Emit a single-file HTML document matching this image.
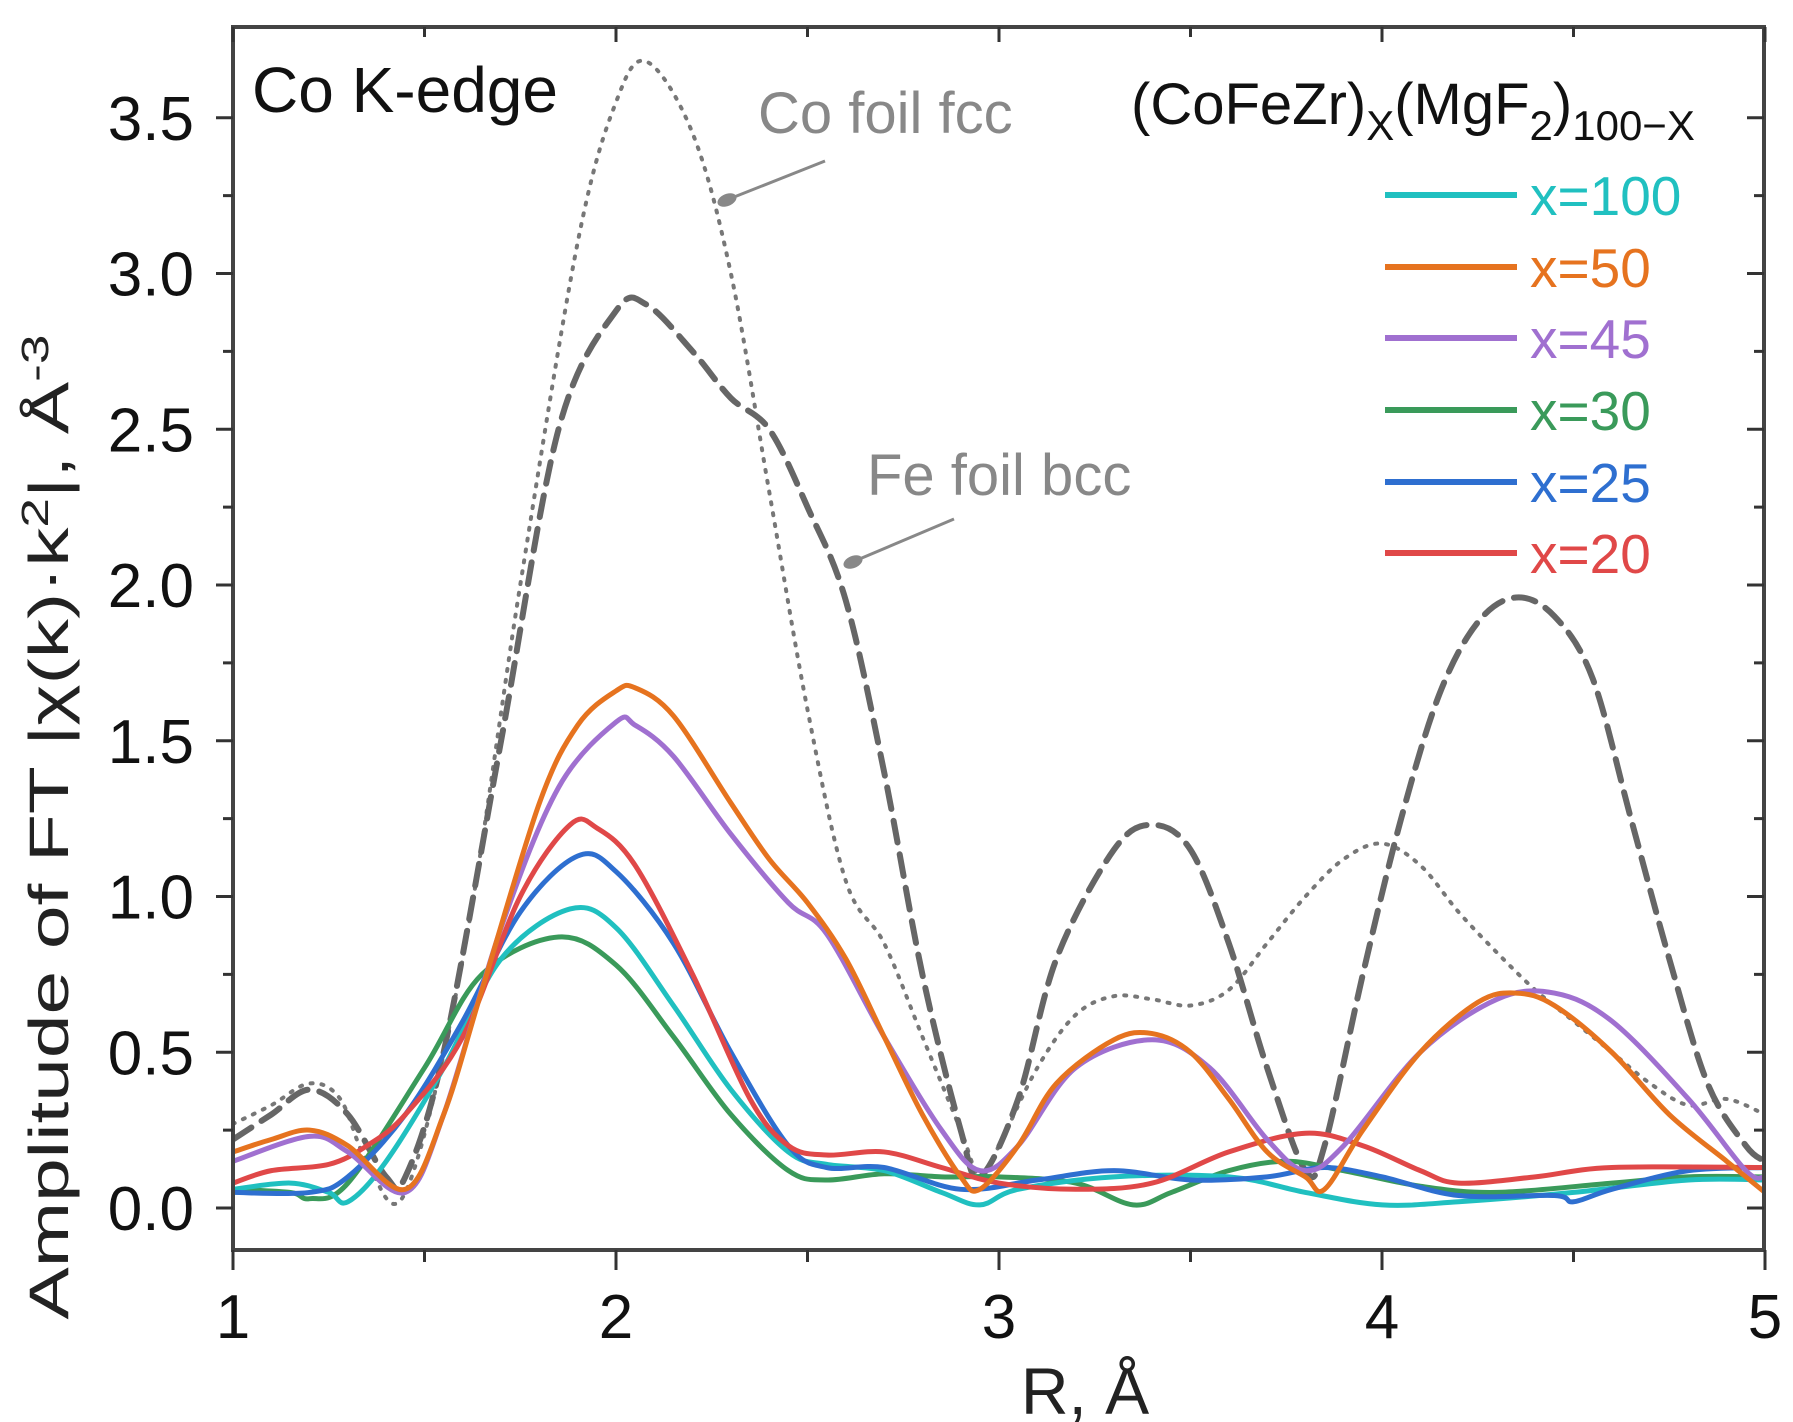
<!DOCTYPE html>
<html><head><meta charset="utf-8"><style>
html,body{margin:0;padding:0;background:#fff;}
svg{display:block;font-family:"Liberation Sans",sans-serif;}
</style></head><body>
<svg id="s" width="1793" height="1422" viewBox="0 0 1793 1422" xmlns="http://www.w3.org/2000/svg">
<defs><clipPath id="c"><rect x="234" y="28" width="1529" height="1221"/></clipPath></defs>
<g id="curves" clip-path="url(#c)" fill="none" stroke-linejoin="round" stroke-linecap="round"></g>
<rect x="233" y="27" width="1531" height="1223" fill="none" stroke="#444" stroke-width="4"/>
<g id="ticks" stroke="#333" stroke-width="3"></g>
<g font-size="62" fill="#111" text-anchor="end" id="ylab"></g>
<g font-size="62" fill="#111" text-anchor="middle" id="xlab"></g>
<text x="1085" y="1414" font-size="66" fill="#222" text-anchor="middle">R, Å</text>
<text transform="translate(68,827) rotate(-90)" font-size="56" fill="#222" text-anchor="middle" textLength="985" lengthAdjust="spacingAndGlyphs">Amplitude of FT |χ(k)·k<tspan dy="-20" font-size="38">2</tspan><tspan dy="20">|, Å</tspan><tspan dy="-20" font-size="38">-3</tspan></text>
<text x="252" y="112" font-size="64" fill="#111">Co K-edge</text>
<text x="1131" y="124" font-size="58" fill="#111">(CoFeZr)<tspan dy="16" font-size="42">X</tspan><tspan dy="-16">(MgF</tspan><tspan dy="16" font-size="42">2</tspan><tspan dy="-16">)</tspan><tspan dy="16" font-size="42">100−X</tspan></text>
<text x="758" y="133" font-size="58" fill="#888">Co foil fcc</text>
<line x1="825" y1="161" x2="724" y2="201" stroke="#888" stroke-width="3"/>
<ellipse cx="727" cy="200" rx="10" ry="6" fill="#888" transform="rotate(-22 727 200)"/>
<text x="867" y="495" font-size="58" fill="#888">Fe foil bcc</text>
<line x1="954" y1="519" x2="850" y2="563" stroke="#888" stroke-width="3"/>
<ellipse cx="853" cy="562" rx="10" ry="6" fill="#888" transform="rotate(-22 853 562)"/>
<g id="leg" font-size="55"></g>
</svg>
<script>
var X=function(r){return 233+(r-1)*383;},Y=function(v){return 1208-v*311.5;};
var NS="http://www.w3.org/2000/svg";
function el(p,t,a,txt){var e=document.createElementNS(NS,t);for(var k in a)e.setAttribute(k,a[k]);if(txt!==undefined)e.textContent=txt;p.appendChild(e);return e;}
var tk=document.getElementById('ticks');
for(var i=0;i<=14;i++){var v=i*0.25,y=Y(v),maj=i%2==0;
 el(tk,'line',{x1:233,x2:233-(maj?17:10),y1:y,y2:y});
 el(tk,'line',{x1:1764,x2:1764-(maj?17:10),y1:y,y2:y});
 if(maj)el(document.getElementById('ylab'),'text',{x:194,y:y+22},v.toFixed(1));}
for(var i=0;i<=8;i++){var r=1+i*0.5,x=X(r),maj=i%2==0;
 el(tk,'line',{x1:x,x2:x,y1:1250,y2:1250+(maj?20:12)});
 el(tk,'line',{x1:x,x2:x,y1:27,y2:27+(maj?15:10)});
 if(maj)el(document.getElementById('xlab'),'text',{x:x,y:1338},String(r));}
function path(d){var p=d.map(function(q){return[X(q[0]),Y(q[1])];});var s="M"+p[0][0]+","+p[0][1];
 for(var i=0;i<p.length-1;i++){var p0=p[i-1]||p[i],p1=p[i],p2=p[i+1],p3=p[i+2]||p2;
  s+="C"+(p1[0]+(p2[0]-p0[0])/6)+","+(p1[1]+(p2[1]-p0[1])/6)+" "+(p2[0]-(p3[0]-p1[0])/6)+","+(p2[1]-(p3[1]-p1[1])/6)+" "+p2[0]+","+p2[1];}
 return s;}
function P(a){var r=[];for(var i=0;i<a.length;i+=2)r.push([a[i],a[i+1]]);return r;}
var S=[
{c:"#777",w:4,da:"2 9",d:P([1,.27,1.1,.33,1.2,.4,1.28,.35,1.35,.15,1.45,.05,1.6,.8,1.75,2.0,1.9,3.1,2.0,3.55,2.08,3.68,2.2,3.45,2.3,3.0,2.4,2.3,2.5,1.6,2.6,1.05,2.7,.85,2.8,.55,2.9,.25,2.95,.1,3.0,.2,3.1,.45,3.2,.62,3.3,.68,3.4,.67,3.5,.65,3.6,.7,3.7,.85,3.8,1.0,3.9,1.12,4.0,1.17,4.1,1.1,4.2,.95,4.3,.82,4.4,.7,4.5,.6,4.6,.5,4.7,.4,4.8,.33,4.9,.35,5.0,.3])},
{c:"#666",w:6,da:"22 12",d:P([1,.22,1.1,.3,1.2,.38,1.3,.3,1.4,.1,1.45,.1,1.55,.5,1.7,1.5,1.85,2.5,2.0,2.88,2.08,2.9,2.2,2.75,2.3,2.6,2.4,2.5,2.5,2.25,2.6,1.95,2.7,1.4,2.8,.75,2.9,.25,2.95,.1,3.05,.35,3.15,.8,3.3,1.15,3.4,1.23,3.5,1.15,3.6,.85,3.7,.45,3.8,.12,3.85,.2,3.95,.75,4.05,1.25,4.15,1.65,4.25,1.88,4.35,1.96,4.45,1.9,4.55,1.7,4.65,1.25,4.75,.8,4.85,.4,4.95,.2,5.0,.15])},
{c:"#3a9a5a",w:5,d:P([1,.06,1.15,.05,1.2,.03,1.3,.08,1.5,.45,1.65,.75,1.85,.87,2.0,.78,2.15,.55,2.3,.3,2.45,.12,2.55,.09,2.7,.11,2.85,.1,3.0,.1,3.2,.08,3.35,.01,3.45,.05,3.6,.12,3.75,.15,3.9,.12,4.1,.07,4.3,.05,4.6,.08,4.8,.1,5.0,.1])},
{c:"#20c0c0",w:5,d:P([1,.06,1.15,.08,1.25,.05,1.3,.02,1.4,.15,1.55,.45,1.7,.8,1.88,.96,2.0,.9,2.15,.65,2.3,.38,2.45,.18,2.55,.14,2.7,.12,2.85,.05,2.95,.01,3.05,.06,3.3,.1,3.6,.1,3.8,.05,4.0,.01,4.2,.02,4.5,.05,4.8,.09,5.0,.09])},
{c:"#2e6fd0",w:5,d:P([1,.05,1.2,.05,1.3,.1,1.45,.3,1.6,.6,1.75,.95,1.9,1.13,2.0,1.08,2.15,.85,2.3,.5,2.45,.2,2.55,.13,2.7,.13,2.9,.06,3.1,.09,3.3,.12,3.5,.09,3.7,.1,3.85,.13,4.0,.1,4.2,.04,4.45,.04,4.5,.02,4.6,.06,4.8,.12,5.0,.13])},
{c:"#e04848",w:5,d:P([1,.08,1.1,.12,1.25,.14,1.35,.2,1.45,.3,1.6,.55,1.75,1.0,1.88,1.23,1.95,1.22,2.05,1.1,2.2,.75,2.35,.35,2.45,.2,2.55,.17,2.7,.18,2.85,.13,3.0,.08,3.2,.06,3.4,.08,3.6,.18,3.8,.24,3.95,.2,4.1,.12,4.2,.08,4.4,.1,4.6,.13,5.0,.13])},
{c:"#a070d0",w:5,d:P([1,.15,1.2,.23,1.3,.18,1.45,.05,1.55,.3,1.7,.9,1.85,1.35,2.0,1.56,2.05,1.55,2.15,1.45,2.3,1.2,2.45,.98,2.55,.88,2.7,.55,2.85,.25,2.95,.12,3.05,.2,3.2,.45,3.4,.54,3.55,.45,3.7,.22,3.8,.12,3.9,.2,4.1,.5,4.3,.67,4.45,.69,4.6,.6,4.8,.35,4.95,.12,5.0,.1])},
{c:"#e6731f",w:5,d:P([1,.18,1.1,.22,1.2,.25,1.3,.2,1.45,.06,1.55,.3,1.65,.7,1.8,1.3,1.9,1.55,2.0,1.66,2.05,1.67,2.15,1.58,2.3,1.3,2.4,1.12,2.5,.98,2.6,.8,2.7,.55,2.8,.3,2.9,.1,2.95,.06,3.05,.2,3.15,.4,3.3,.54,3.4,.56,3.5,.5,3.6,.35,3.7,.18,3.8,.1,3.85,.06,3.95,.25,4.1,.5,4.25,.66,4.35,.69,4.45,.65,4.6,.5,4.75,.3,4.9,.15,5.0,.05])}
];
var g=document.getElementById('curves');
S.forEach(function(s){var a={d:path(s.d),stroke:s.c,"stroke-width":s.w};if(s.da){a["stroke-dasharray"]=s.da;}el(g,'path',a);});
var L=[["#20c0c0","x=100",195],["#e6731f","x=50",267],["#a070d0","x=45",338],["#3a9a5a","x=30",410],["#2e6fd0","x=25",482],["#e04848","x=20",553]];
var lg=document.getElementById('leg');
L.forEach(function(l){el(lg,'line',{x1:1385,x2:1517,y1:l[2],y2:l[2],stroke:l[0],"stroke-width":6});el(lg,'text',{x:1530,y:l[2]+20,fill:l[0]},l[1]);});
</script>
</body></html>
